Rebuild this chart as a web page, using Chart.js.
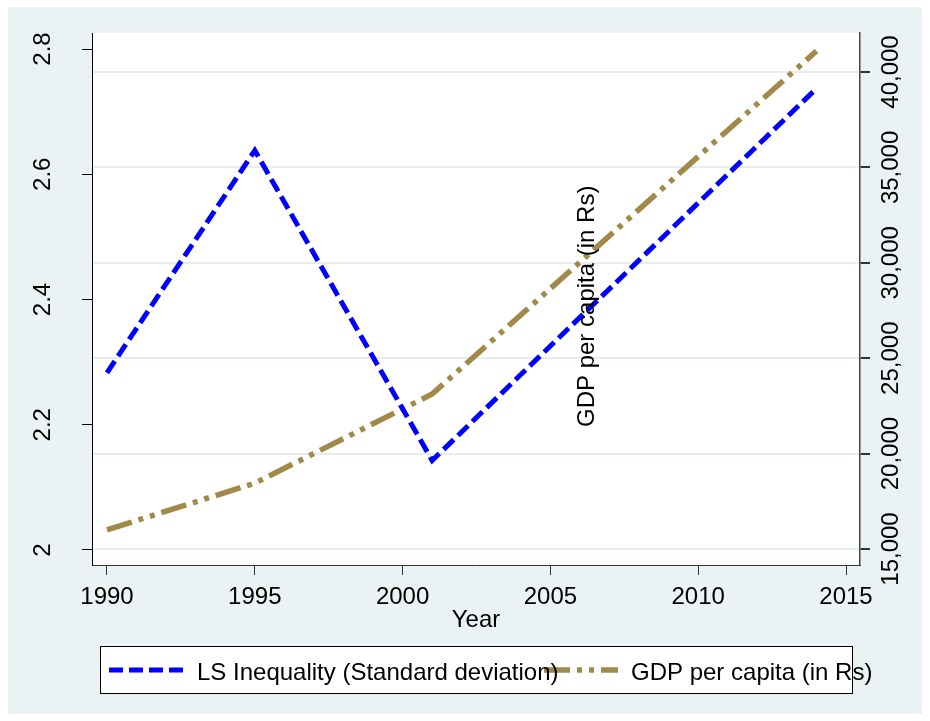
<!DOCTYPE html>
<html>
<head>
<meta charset="utf-8">
<title>LS Inequality and GDP per capita</title>
<script src="https://cdn.jsdelivr.net/npm/chart.js@4/dist/chart.umd.min.js"></script>
<style>
  html, body { margin: 0; padding: 0; background: #ffffff; }
  canvas { display: block; }
</style>
</head>
<body>
<canvas id="chart" width="930" height="721"></canvas>
<script>
// Survey years
const years = [1990, 1995, 2001, 2014];
// Life-satisfaction inequality (standard deviation), left axis
const lsInequality = [2.283, 2.638, 2.143, 2.737];
// GDP per capita in rupees, right axis
const gdpPerCapita = [16000, 18450, 23120, 41100];

// Tick values and labels
const yearTicks = [1990, 1995, 2000, 2005, 2010, 2015];
const lsTicks = [2, 2.2, 2.4, 2.6, 2.8];
const lsTickLabels = ['2', '2.2', '2.4', '2.6', '2.8'];
const gdpTicks = [15000, 20000, 25000, 30000, 35000, 40000];
const gdpTickLabels = ['15,000', '20,000', '25,000', '30,000', '35,000', '40,000'];

const seriesLabels = ['LS Inequality (Standard deviation)', 'GDP per capita (in Rs)'];
const xTitle = 'Year';
const rightTitle = 'GDP per capita (in Rs)';

const BG = '#EAF2F3';
const FONT = '24px "Liberation Sans", Arial, sans-serif';

const toPoints = (xs, ys) => xs.map((x, i) => ({ x: x, y: ys[i] }));
const fixedTicks = vals => scale => { scale.ticks = vals.map(v => ({ value: v })); };
const zeroWidth = s => { s.width = 0; };
const zeroHeight = s => { s.height = 0; };

// Graph region and white plot region
const backdrop = {
  id: 'backdrop',
  beforeDraw(chart) {
    const ctx = chart.ctx, a = chart.chartArea;
    ctx.save();
    ctx.fillStyle = '#ffffff';
    ctx.fillRect(0, 0, chart.width, chart.height);
    ctx.fillStyle = BG;
    ctx.fillRect(8, 7, 914, 707);
    ctx.fillStyle = '#ffffff';
    ctx.fillRect(a.left, a.top, a.right - a.left, a.bottom - a.top);
    ctx.restore();
  }
};

// Rotated tick labels, axis titles and the boxed legend
const annotations = {
  id: 'annotations',
  afterDraw(chart) {
    const ctx = chart.ctx, a = chart.chartArea;
    const sx = chart.scales.x, sy = chart.scales.y, sy2 = chart.scales.y2;
    ctx.save();
    ctx.font = FONT;
    ctx.fillStyle = '#000000';

    // bottom axis labels
    ctx.textAlign = 'center';
    ctx.textBaseline = 'alphabetic';
    yearTicks.forEach(v => ctx.fillText(String(v), sx.getPixelForValue(v), a.bottom + 39));
    ctx.fillText(xTitle, (a.left + a.right) / 2, a.bottom + 62);

    // left axis labels, vertical
    lsTicks.forEach((v, i) => {
      ctx.save();
      ctx.translate(a.left - 42, sy.getPixelForValue(v));
      ctx.rotate(-Math.PI / 2);
      ctx.textAlign = 'center';
      ctx.fillText(lsTickLabels[i], 0, 0);
      ctx.restore();
    });

    // right axis labels, vertical
    gdpTicks.forEach((v, i) => {
      ctx.save();
      ctx.translate(a.right + 38, sy2.getPixelForValue(v));
      ctx.rotate(-Math.PI / 2);
      ctx.textAlign = 'center';
      ctx.fillText(gdpTickLabels[i], 0, 0);
      ctx.restore();
    });

    // right axis title
    ctx.save();
    ctx.translate(a.left + 502, a.top + 394);
    ctx.rotate(-Math.PI / 2);
    ctx.textAlign = 'left';
    ctx.fillText(rightTitle, 0, 0);
    ctx.restore();

    // legend
    const lx = 100, ly = 646, lw = 752, lh = 47;
    ctx.fillStyle = '#ffffff';
    ctx.fillRect(lx, ly, lw, lh);
    ctx.strokeStyle = '#000000';
    ctx.lineWidth = 1;
    ctx.strokeRect(lx + 0.5, ly + 0.5, lw, lh);

    const ds = chart.data.datasets;
    const samples = [[109, 184], [544, 618]];
    const textX = [197, 631];
    ds.forEach((d, i) => {
      ctx.save();
      ctx.strokeStyle = d.borderColor;
      ctx.lineWidth = d.borderWidth;
      ctx.setLineDash(d.borderDash);
      ctx.lineCap = 'butt';
      ctx.beginPath();
      ctx.moveTo(samples[i][0], ly + 24);
      ctx.lineTo(samples[i][1], ly + 24);
      ctx.stroke();
      ctx.restore();
    });
    ctx.fillStyle = '#000000';
    ctx.textAlign = 'left';
    ctx.textBaseline = 'alphabetic';
    ds.forEach((d, i) => ctx.fillText(d.label, textX[i], ly + 34));
    ctx.restore();
  }
};

new Chart(document.getElementById('chart'), {
  type: 'line',
  data: {
    datasets: [
      {
        label: seriesLabels[0],
        data: toPoints(years, lsInequality),
        yAxisID: 'y',
        borderColor: '#0000FF',
        borderWidth: 5,
        borderDash: [14, 6],
        borderCapStyle: 'butt',
        borderJoinStyle: 'miter',
        pointRadius: 0,
        tension: 0,
        fill: false
      },
      {
        label: seriesLabels[1],
        data: toPoints(years, gdpPerCapita),
        yAxisID: 'y2',
        borderColor: 'rgb(160,137,73)',
        borderWidth: 5.5,
        borderDash: [26, 7, 5, 7, 5, 7],
        borderCapStyle: 'butt',
        borderJoinStyle: 'miter',
        pointRadius: 0,
        tension: 0,
        fill: false
      }
    ]
  },
  options: {
    responsive: false,
    animation: false,
    devicePixelRatio: 1,
    layout: { padding: { left: 92, right: 70, top: 33, bottom: 156 } },
    plugins: {
      legend: { display: false },
      tooltip: { enabled: false },
      title: { display: false }
    },
    scales: {
      x: {
        type: 'linear',
        position: 'bottom',
        min: 1989.4926,
        max: 2015.4736,
        afterBuildTicks: fixedTicks(yearTicks),
        afterFit: zeroHeight,
        ticks: { display: false },
        grid: { drawOnChartArea: false, drawTicks: true, tickLength: 10, color: '#333333', tickColor: '#333333', lineWidth: 1 },
        border: { display: true, color: '#333333', width: 1 }
      },
      y: {
        type: 'linear',
        position: 'left',
        min: 1.976,
        max: 2.8256,
        afterBuildTicks: fixedTicks(lsTicks),
        afterFit: zeroWidth,
        ticks: { display: false },
        grid: { drawOnChartArea: false, drawTicks: true, tickLength: 10, color: '#000000', tickColor: '#000000', lineWidth: 1 },
        border: { display: true, color: '#000000', width: 1 }
      },
      y2: {
        type: 'linear',
        position: 'right',
        min: 14161,
        max: 42044,
        afterBuildTicks: fixedTicks(gdpTicks),
        afterFit: zeroWidth,
        ticks: { display: false },
        grid: { drawOnChartArea: true, drawTicks: true, tickLength: 10, color: '#E4EEEF', tickColor: '#333333', lineWidth: 2 },
        border: { display: true, color: '#444444', width: 1.5 }
      }
    }
  },
  plugins: [backdrop, annotations]
});
</script>
</body>
</html>
